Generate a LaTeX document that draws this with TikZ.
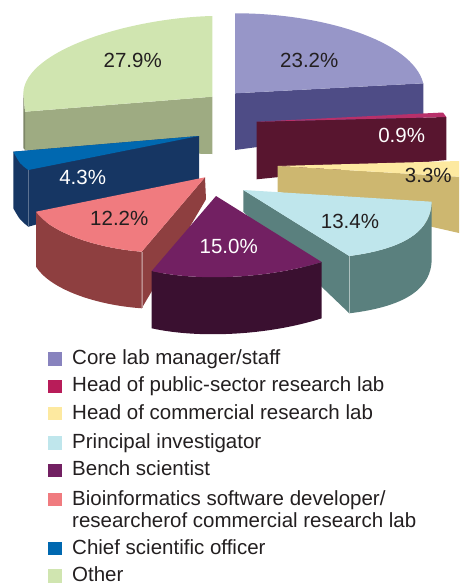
\documentclass[tikz,border=0pt]{standalone}
\usepackage{fontspec}
\setmainfont{Liberation Sans}
\definecolor{corelab}{HTML}{9796C8}
\definecolor{corelabside}{HTML}{4E4C86}
\definecolor{corelabkey}{HTML}{8883BE}
\definecolor{publichead}{HTML}{B8306A}
\definecolor{publicside}{HTML}{58152F}
\definecolor{publickey}{HTML}{B81C59}
\definecolor{commhead}{HTML}{FDE9A0}
\definecolor{commside}{HTML}{CDB770}
\definecolor{pinv}{HTML}{BFE6EC}
\definecolor{pinvside}{HTML}{5A807E}
\definecolor{bench}{HTML}{722062}
\definecolor{benchside}{HTML}{3A1030}
\definecolor{bioinf}{HTML}{F07B7F}
\definecolor{bioinfside}{HTML}{8E3F40}
\definecolor{chief}{HTML}{0068B0}
\definecolor{chiefside}{HTML}{163663}
\definecolor{other}{HTML}{D0E5B0}
\definecolor{otherside}{HTML}{9EAB82}
\definecolor{otheredge}{HTML}{7E8768}
\definecolor{darktext}{HTML}{231F20}
\begin{document}
\begin{tikzpicture}[x=1pt,y=-1pt,
  pct/.style={font=\fontsize{20.5}{22}\selectfont, text=darktext, inner sep=0pt},
  keybox/.style={minimum size=13.4pt, inner sep=0pt},
  lab/.style={font=\fontsize{20.5}{22}\selectfont, text=darktext, inner sep=0pt, anchor=base west}]
\useasboundingbox (0,0) rectangle (459,584);
% other
\fill[otherside] (25,111.7) -- (212.3,96.7) -- (212.3,154) -- (25,150) -- cycle;
\fill[otheredge] (23.3,93) -- (25,111.7) -- (25,150) -- (23.3,148) -- cycle;
\fill[other] (212.3,16) .. controls (130,18) and (25,50) .. (23.3,93) -- (25,111.7) -- (212.3,96.7) -- cycle;
% core lab
\fill[corelabside] (235,93.3) -- (423.3,83.3) -- (423.3,125) -- (235,150) -- cycle;
\fill[corelab] (235,13.3) .. controls (320,13) and (412,40) .. (423.3,83.3) -- (235,93.3) -- cycle;
% chief scientific officer
\fill[chiefside] (13.3,151.7) -- (199,136) -- (199,180) -- (28.3,226.7) .. controls (20,220) .. (13.3,208.3) -- cycle;
\fill[chief] (13.3,151.7) -- (199,136) -- (28.3,170) .. controls (20,164) .. (13.3,151.7) -- cycle;
\draw[chiefside!70!white, thin] (28.3,170) -- (28.3,226.7);
% public-sector head
\fill[publicside] (256.7,121.7) -- (446.3,117) -- (446.3,160) -- (256.7,179.3) -- cycle;
\fill[publichead] (256.7,121.7) -- (443,112.5) -- (446.3,117) -- cycle;
% commercial head
\fill[commside] (277.7,166) -- (459,176.7) -- (459,233) -- (277.7,191.7) -- cycle;
\fill[commhead] (277.7,166) -- (459,161) -- (459,176.7) -- cycle;
% principal investigator
\fill[pinvside] (243.3,190) -- (349.3,256) -- (349.3,313.3) -- (243.3,211.7) -- cycle;
\fill[pinvside] (349.3,256) .. controls (410,248) and (431,228) .. (431.7,201.7) -- (431.7,260) .. controls (431,286) and (410,306) .. (349.3,313.3) -- cycle;
\fill[pinv] (243.3,190) -- (431.7,201.7) .. controls (431,228) and (410,248) .. (349.3,256) -- cycle;
\draw[pinvside!50!white, thin] (349.3,256) -- (349.3,313.3);
% bioinformatics
\fill[bioinfside] (36,211.7) .. controls (50,232) and (95,248) .. (141.7,251.7) -- (141.7,308.3) .. controls (95,305) and (50,289) .. (36,266.7) -- cycle;
\fill[bioinfside] (141.7,251.7) -- (205,177.3) -- (206,199.3) -- (141.7,308.3) -- cycle;
\fill[bioinf] (36,211.7) -- (205,177.3) -- (141.7,251.7) .. controls (95,248) and (50,232) .. (36,211.7) -- cycle;
\draw[bioinfside!60!white, thin] (141.7,251.7) -- (141.7,308.3);
% bench scientist
\fill[benchside] (151.7,271) .. controls (200,282) and (270,278) .. (321.7,262) -- (321.7,318.3) .. controls (270,335) and (200,339) .. (151.7,328.3) -- cycle;
\fill[bench] (216,196) -- (321.7,262) .. controls (270,278) and (200,282) .. (151.7,271) -- cycle;
% percentages
\node[pct] (pother) at (132.7,60) {27.9\%};
\node[pct] (pcore) at (309.3,60) {23.2\%};
\node[pct, text=white] (ppublic) at (401.7,135) {0.9\%};
\node[pct] (pcomm) at (428.3,175) {3.3\%};
\node[pct] (ppinv) at (350,221.7) {13.4\%};
\node[pct, text=white] (pbench) at (228.7,246.7) {15.0\%};
\node[pct] (pbioinf) at (119.3,218.3) {12.2\%};
\node[pct, text=white] (pchief) at (82.7,177.3) {4.3\%};
% legend
\foreach \y/\c/\t [count=\i] in {359/corelabkey/{Core lab manager/staff}, 386.3/publickey/{Head of public-sector research lab}, 413.7/commhead/{Head of commercial research lab}, 443/pinv/{Principal investigator}, 470.3/bench/{Bench scientist}, 499.7/bioinf/{Bioinformatics software developer/}, 548.7/chief/{Chief scientific officer}, 576/other/{Other}}{
    \node[keybox, fill=\c] (key\i) at (55,\y) {};
    \node[lab] (lab\i) at (72,\y+5.3) {\t};
}
\node[lab] (lab6b) at (72,527.7) {researcherof commercial research lab};
\end{tikzpicture}
\end{document}
